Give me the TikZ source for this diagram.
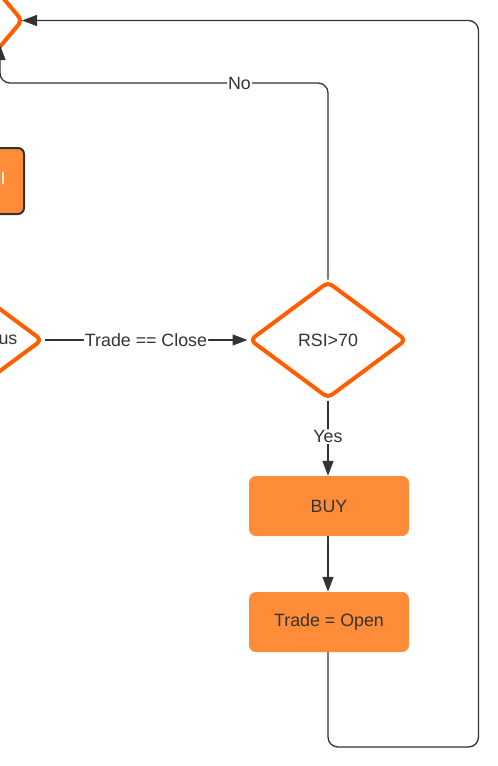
\documentclass[tikz,border=0pt]{standalone}
\usepackage{fontspec}
\setmainfont{Liberation Sans}
\usetikzlibrary{shapes.geometric,arrows.meta}
\definecolor{dstroke}{HTML}{FF5F00}
\definecolor{bfill}{HTML}{FF8C38}
\definecolor{ink}{HTML}{333333}
\tikzset{
  every node/.style={font=\fontsize{17.8}{21}\selectfont, text=ink},
  decision/.style={shape=diamond, draw=dstroke, fill=white, line width=4pt, line join=round,
    rounded corners=5pt, minimum width=157pt, minimum height=117pt, inner sep=0pt},
  actbox/.style={shape=rectangle, fill=bfill, rounded corners=7pt,
    minimum width=160pt, minimum height=60pt, inner sep=0pt},
  conn/.style={draw=ink, line width=1.3pt, rounded corners=10pt},
  arr/.style={conn, -{Triangle[length=15pt,width=11pt]}},
  lbl/.style={fill=white, inner sep=1pt},
}
\begin{document}
\begin{tikzpicture}[x=1pt,y=-1pt]
\useasboundingbox (0,0) rectangle (498,766);
\clip (0,0) rectangle (498,766);
% partial shapes at left edge
\node[decision, minimum width=104pt, minimum height=124pt, outer sep=0pt] (top) at (-30,20.5) {};
\node[shape=rectangle, draw=ink, fill=bfill, line width=2pt, rounded corners=6pt,
  minimum width=80pt, minimum height=66pt, inner sep=0pt] (leftbox) at (-16,181) {};
\node[text=white, anchor=center] (leftboxtxt) at (3,178) {I};
\node[decision] (status) at (-36,340) {};
\node[anchor=east, inner sep=0pt] (statustxt) at (17.5,340) {us};
% main nodes
\node[decision] (rsi) at (328,340) {RSI>70};
\node[actbox] (buy) at (329,506) {BUY};
\node[actbox] (open) at (329,622) {Trade = Open};
\coordinate (topin) at (0,45);
% connectors
\draw[arr] (status.east) -- node[lbl] {Trade == Close} (rsi.west);
\draw[arr] (rsi.south) -- node[lbl, pos=0.48] {Yes} (buy.north -| rsi.south);
\draw[arr] (buy.south -| rsi.south) -- (open.north -| rsi.south);
\draw[arr] (rsi.north) -- (328,83) -- node[lbl, pos=0.27] {No} (0,83) -- (topin);
\draw[arr] (open.south -| rsi.south) -- (328,747) -- (478.5,747) |- (top.east);
\end{tikzpicture}
\end{document}
